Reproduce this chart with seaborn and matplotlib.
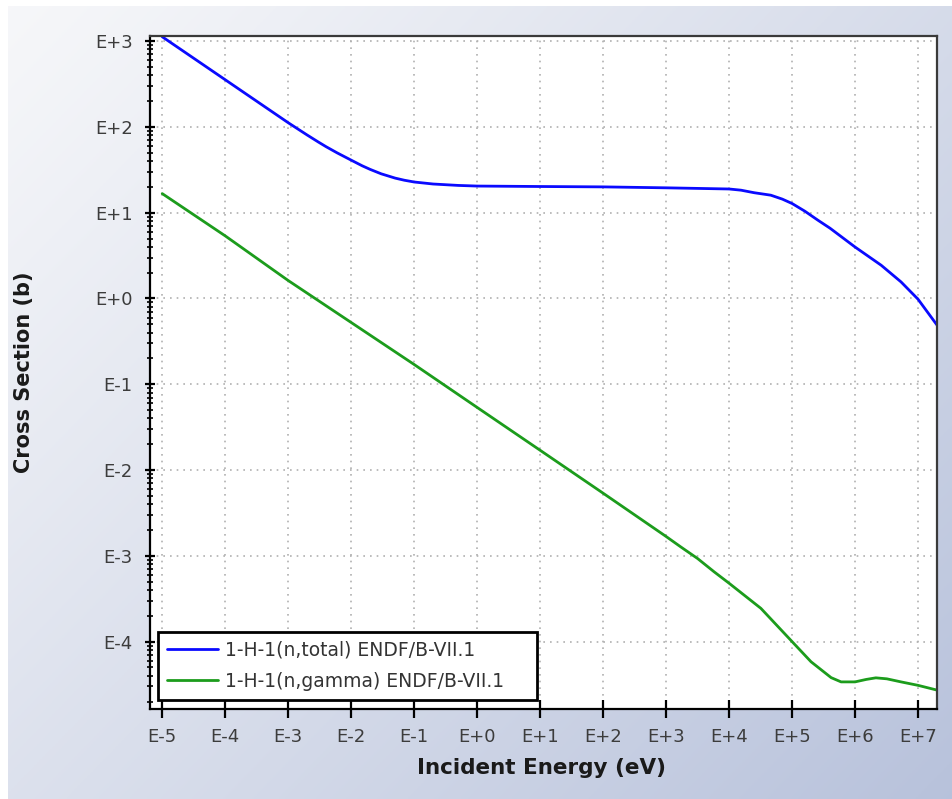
import numpy as np
import pandas as pd
import matplotlib
matplotlib.use("Agg")
import matplotlib.pyplot as plt
import seaborn as sns
from matplotlib.ticker import FixedLocator, FuncFormatter, NullLocator, LogLocator

# ---------------- data ----------------
energy_total = [1e-5, 1e-4, 1e-3, 2e-3, 3e-3, 4e-3, 6e-3, 1e-2, 1.5e-2, 2e-2, 3e-2,
                5e-2, 7e-2, 1e-1, 2e-1, 5e-1, 1e0, 1e1, 1e2, 1e3, 1e4, 1.55e4,
                2.5e4, 4.6e4, 7e4, 1e5, 1.6e5, 2.57e5, 4e5, 1e6, 2.6e6, 5.37e6,
                1e7, 2e7]
xs_total = [1125, 355, 112, 80.5, 66.8, 58.8, 49.8, 41.0, 35.2, 32.0, 28.4,
            25.3, 23.9, 22.8, 21.6, 20.8, 20.45, 20.2, 20.0, 19.5, 18.9, 18.3,
            17.1, 16.0, 14.4, 12.8, 10.4, 8.18, 6.6, 3.98, 2.44, 1.56,
            0.98, 0.49]

energy_gamma = [1e-5, 1e-4, 1e-3, 1e-2, 1e-1, 1e0, 1e1, 1e2, 1e3, 1.71e3, 3.16e3,
                5.8e3, 1e4, 3.2e4, 1e5, 2.0e5, 4.17e5, 6.0e5, 1e6, 1.5e6, 2.14e6,
                3.2e6, 5.37e6, 1e7, 2e7]
xs_gamma = [16.7, 5.37, 1.62, 0.525, 0.170, 0.0537, 0.0170, 5.37e-3, 1.68e-3,
            1.27e-3, 9.3e-4, 6.5e-4, 4.79e-4, 2.44e-4, 1.0e-4, 5.82e-5, 3.8e-5,
            3.39e-5, 3.39e-5, 3.62e-5, 3.78e-5, 3.68e-5, 3.39e-5, 3.09e-5, 2.72e-5]

series_labels = ["1-H-1(n,total) ENDF/B-VII.1", "1-H-1(n,gamma) ENDF/B-VII.1"]
series_colors = ["#0a0aff", "#1c9c1c"]
x_ticks = [1e-5, 1e-4, 1e-3, 1e-2, 1e-1, 1e0, 1e1, 1e2, 1e3, 1e4, 1e5, 1e6, 1e7]
y_ticks = [1e-4, 1e-3, 1e-2, 1e-1, 1e0, 1e1, 1e2, 1e3]
x_label = "Incident Energy (eV)"
y_label = "Cross Section (b)"

df = pd.concat([
    pd.DataFrame({"energy": energy_total, "xs": xs_total, "series": series_labels[0]}),
    pd.DataFrame({"energy": energy_gamma, "xs": xs_gamma, "series": series_labels[1]}),
], ignore_index=True)

# ---------------- figure ----------------
sns.set_theme(style="white")
plt.rcParams["font.family"] = ["DejaVu Sans"]

W, H = 953, 799
fig = plt.figure(figsize=(W / 100, H / 100), dpi=100)
fig.patch.set_facecolor("white")

# gradient background panel
bg = fig.add_axes([8 / W, 0, (W - 8) / W, (H - 6) / H], zorder=-10)
gx = np.linspace(0, 1, 300)
gy = np.linspace(0, 1, 300)
GX, GY = np.meshgrid(gx, gy)  # GY=0 at top row
t = np.clip((GX * 0.55 + GY * 0.45), 0, 1) ** 1.1
c0 = np.array([0.965, 0.968, 0.978])
c1 = np.array([0.72, 0.76, 0.86])
img = c0[None, None, :] * (1 - t[..., None]) + c1[None, None, :] * t[..., None]
bg.imshow(img, aspect="auto", extent=[0, 1, 0, 1], origin="upper")
bg.set_axis_off()

ax = fig.add_axes([150 / W, 1 - 708.5 / H, 787 / W, 672.5 / H])
ax.set_facecolor("white")
ax.set_xscale("log")
ax.set_yscale("log")

sns.lineplot(data=df, x="energy", y="xs", hue="series", hue_order=series_labels,
             palette=dict(zip(series_labels, series_colors)), estimator=None,
             sort=False, linewidth=2.0, ax=ax)

ax.set_xlim(6.4e-6, 2.0e7)
ax.set_ylim(10 ** -4.78, 10 ** 3.06)

ax.xaxis.set_major_locator(FixedLocator(x_ticks))
ax.xaxis.set_minor_locator(NullLocator())
ax.yaxis.set_major_locator(FixedLocator(y_ticks))
ax.yaxis.set_minor_locator(LogLocator(base=10, subs=np.arange(2, 10), numticks=200))

fmt = FuncFormatter(lambda v, p: "E{:+d}".format(int(round(np.log10(v)))))
ax.xaxis.set_major_formatter(fmt)
ax.yaxis.set_major_formatter(fmt)
ax.yaxis.set_minor_formatter(FuncFormatter(lambda v, p: ""))

ax.tick_params(axis="x", which="major", direction="inout", length=13, width=1.6,
               color="black", labelsize=13, labelcolor="#3c3c3c", pad=7.5, bottom=True)
ax.tick_params(axis="y", which="major", direction="inout", length=7, width=1.6,
               color="black", labelsize=13, labelcolor="#3c3c3c", pad=9, left=True)
ax.tick_params(axis="y", which="minor", direction="inout", length=4.5, width=1.2,
               color="black", left=True)

ax.grid(True, which="major", axis="both", color="#b0b0b0",
        linestyle=(0, (1, 3)), linewidth=1.2)
ax.set_axisbelow(True)

for side in ["left", "bottom"]:
    ax.spines[side].set_color("black")
    ax.spines[side].set_linewidth(1.6)
for side in ["top", "right"]:
    ax.spines[side].set_color("#3a3a3a")
    ax.spines[side].set_linewidth(1.6)

ax.set_xlabel(x_label, fontsize=15.5, fontweight="bold", color="#1a1a1a")
ax.set_ylabel(y_label, fontsize=15, fontweight="bold", color="#1a1a1a")
ax.xaxis.set_label_coords(0.498, -0.0735)
ax.yaxis.set_label_coords(-0.147, 0.5)

handles, labels = ax.get_legend_handles_labels()
aw, ah = 787, 672.5
leg = ax.legend(handles=handles, labels=labels, loc="lower left",
                bbox_to_anchor=(8 / aw, 8.5 / ah, 379 / aw, 71 / ah), mode="expand",
                borderaxespad=0, fontsize=13.5, frameon=True, fancybox=False,
                shadow=False, framealpha=1, edgecolor="black", handlelength=2.7,
                handletextpad=0.37, borderpad=0.5, labelspacing=0.62, title=None)
leg.get_frame().set_linewidth(2.0)
for txt in leg.get_texts():
    txt.set_color("#333333")

fig.savefig("out.png", dpi=100)
